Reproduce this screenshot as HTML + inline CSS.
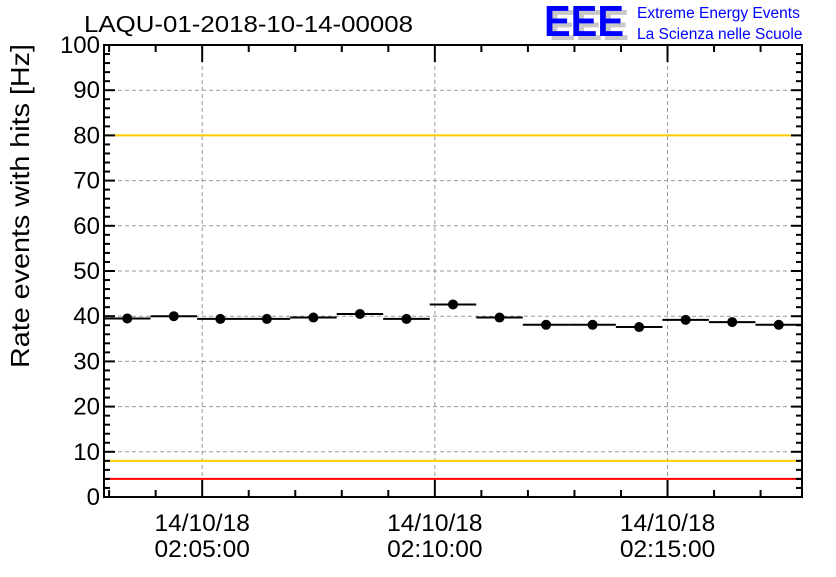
<!DOCTYPE html>
<html><head><meta charset="utf-8"><style>
body{margin:0;background:#fff}
svg text{font-family:"Liberation Sans",sans-serif}
</style></head><body>
<svg id="c" width="836" height="572" xmlns="http://www.w3.org/2000/svg">
<rect width="836" height="572" fill="#fff"/>
<text x="84" y="32" font-size="23" fill="#000" textLength="329" lengthAdjust="spacingAndGlyphs">LAQU-01-2018-10-14-00008</text>
<g>
<text x="549" y="40" font-size="44" font-weight="bold" fill="#c8c8c8" textLength="80" lengthAdjust="spacingAndGlyphs">EEE</text>
<text x="544" y="36" font-size="44" font-weight="bold" fill="#0000ff" textLength="80" lengthAdjust="spacingAndGlyphs">EEE</text>
<text x="637" y="18" font-size="15.5" fill="#0000ff">Extreme Energy Events</text>
<text x="637" y="39" font-size="15.5" fill="#0000ff">La Scienza nelle Scuole</text>
</g>
<text transform="translate(29,206) rotate(-90)" text-anchor="middle" font-size="26" fill="#000" textLength="324" lengthAdjust="spacingAndGlyphs">Rate events with hits [Hz]</text>
<g id="grid"></g><g id="lines"></g><g id="marks"></g><g id="axes"></g>
</svg>
<script>
const yTicks=[0,10,20,30,40,50,60,70,80,90,100];
const xTickMinutes=[5,10,15];
const xTickDates=["14/10/18","14/10/18","14/10/18"];
const xTickTimes=["02:05:00","02:10:00","02:15:00"];
const binStartMinute=2.89;
const rates=[39.5,40.0,39.4,39.4,39.7,40.5,39.4,42.6,39.7,38.1,38.1,37.6,39.2,38.7,38.1];
const yellowLimits=[80,8];
const redLimits=[100,4];
const NS="http://www.w3.org/2000/svg";
const L=104,R=802,T=45,B=497;
const nb=rates.length;
const minPx=(R-L)/nb;
const xs=m=>L+(m-binStartMinute)*minPx;
const ys=v=>B-(v/100)*(B-T);
function mk(tag,attrs,parent){const e=document.createElementNS(NS,tag);for(const k in attrs)e.setAttribute(k,attrs[k]);document.getElementById(parent).appendChild(e);return e;}
yTicks.forEach(v=>{if(v>0&&v<100){const e=mk('line',{x1:L,x2:R,y1:ys(v),y2:ys(v),stroke:'#999','stroke-dasharray':'4,3','stroke-width':1},'grid');

}});
xTickMinutes.forEach(m=>{const e=mk('line',{x1:xs(m),x2:xs(m),y1:T,y2:B,stroke:'#999','stroke-dasharray':'4,3','stroke-width':1},'grid');

});
yellowLimits.forEach(v=>{const e=mk('line',{x1:L,x2:R,y1:ys(v),y2:ys(v),stroke:'#ffcc00','stroke-width':2},'lines');

});
redLimits.forEach(v=>{const e=mk('line',{x1:L,x2:R,y1:ys(v),y2:ys(v),stroke:'#ff0000','stroke-width':2},'lines');

});
rates.forEach((v,i)=>{const x0=L+i*minPx,x1=L+(i+1)*minPx,y=ys(v);
const l=mk('line',{x1:x0,x2:x1,y1:y,y2:y,stroke:'#000','stroke-width':2},'marks');


const c=mk('circle',{cx:(x0+x1)/2,cy:y,r:5,fill:'#000'},'marks');

});
const fr=mk('rect',{x:L,y:T,width:R-L,height:B-T,fill:'none',stroke:'#000','stroke-width':2},'axes');


for(let v=0;v<=100;v+=2){const major=v%10===0;const ln=major?11:6;
mk('line',{x1:L,x2:L+ln,y1:ys(v),y2:ys(v),stroke:'#000','stroke-width':2},'axes');
mk('line',{x1:R,x2:R-ln,y1:ys(v),y2:ys(v),stroke:'#000','stroke-width':2},'axes');}
yTicks.forEach(v=>{const t=mk('text',{x:L-4,y:ys(v)+8,'text-anchor':'end','font-size':24,fill:'#000'},'axes');t.textContent=v;

});
for(let m=Math.ceil(binStartMinute);m<=binStartMinute+nb;m++){const major=m%5===0;const ln=major?17:7;
mk('line',{x1:xs(m),x2:xs(m),y1:B,y2:B-ln,stroke:'#000','stroke-width':2},'axes');
mk('line',{x1:xs(m),x2:xs(m),y1:T,y2:T+ln,stroke:'#000','stroke-width':2},'axes');}
xTickMinutes.forEach((m,i)=>{const t1=mk('text',{x:xs(m),y:531,'text-anchor':'middle','font-size':24.5,fill:'#000'},'axes');t1.textContent=xTickDates[i];


const t2=mk('text',{x:xs(m),y:557,'text-anchor':'middle','font-size':24.5,fill:'#000'},'axes');t2.textContent=xTickTimes[i];

});
</script>
</body></html>
